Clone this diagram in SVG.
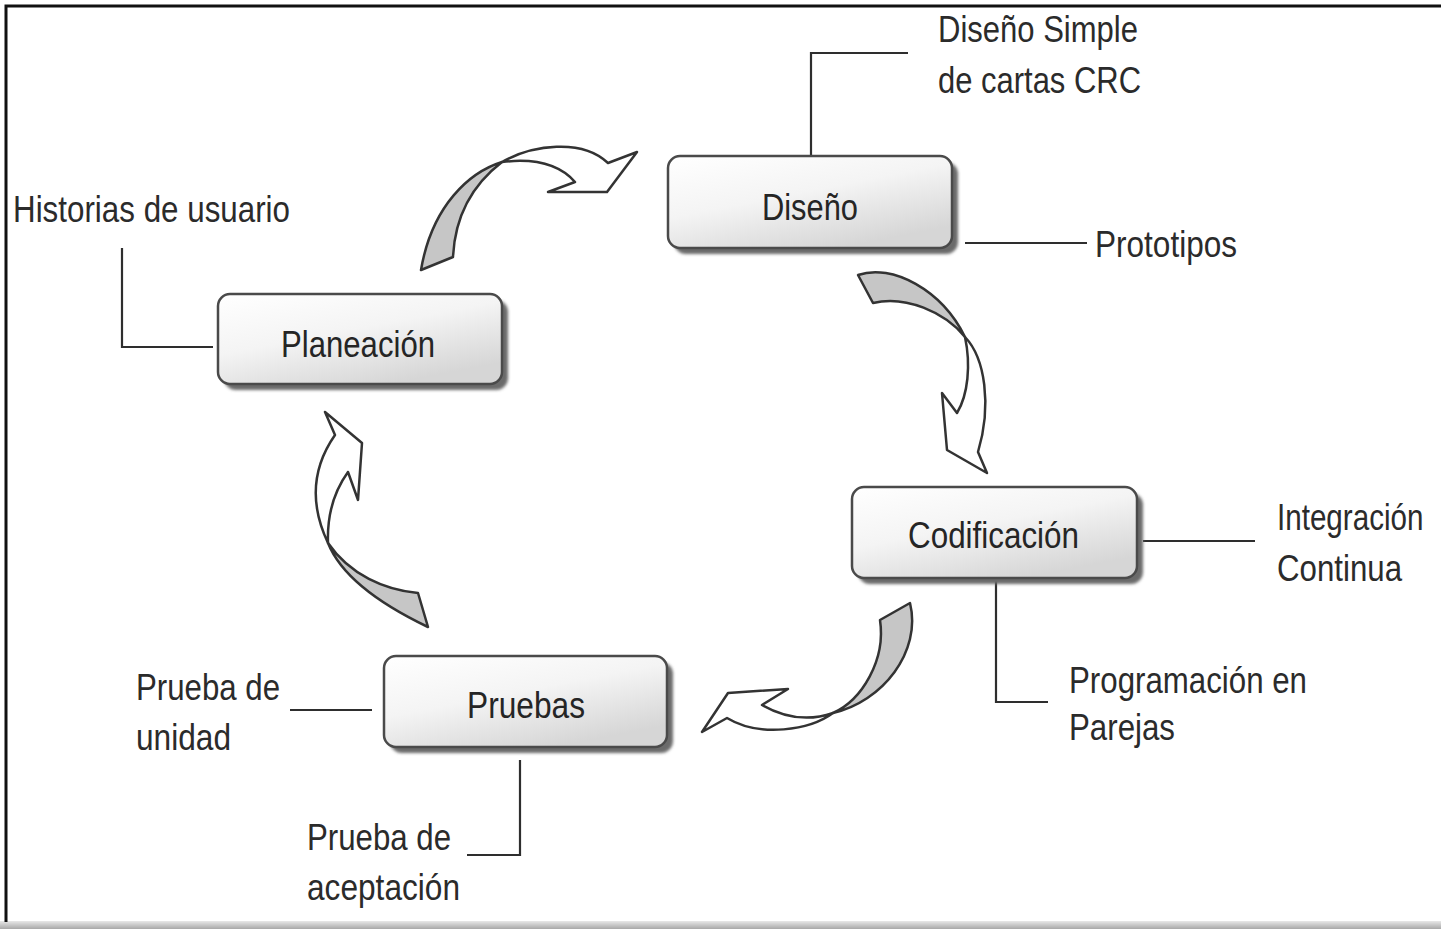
<svg xmlns="http://www.w3.org/2000/svg" width="1441" height="929" viewBox="0 0 1441 929">
<style>
text{font-family:"Liberation Sans",Arial,sans-serif;font-size:37px;fill:#2b2b2b;}
.lbl{font-size:36px;fill:#252525;}
.box{fill:url(#g);stroke:#4a4a4a;stroke-width:2.5;}
.sh{fill:#6a6a6a;filter:url(#b);}
.ln{fill:none;stroke:#2e2e2e;stroke-width:2.2;}
.ag{fill:#c6c6c6;stroke:#333;stroke-width:2.5;stroke-linejoin:round;}
.aw{fill:#fff;stroke:#333;stroke-width:2.5;stroke-linejoin:round;}
</style>
<defs>
<linearGradient id="g" x1="0" y1="0" x2="0.6" y2="1">
<stop offset="0" stop-color="#ffffff"/>
<stop offset="0.5" stop-color="#f4f4f4"/>
<stop offset="1" stop-color="#d6d6d6"/>
</linearGradient>
<linearGradient id="bot" x1="0" y1="0" x2="0" y2="1">
<stop offset="0" stop-color="#e8e8e8"/>
<stop offset="1" stop-color="#a8a8a8"/>
</linearGradient>
<filter id="b" x="-10%" y="-10%" width="120%" height="130%"><feGaussianBlur stdDeviation="1.5"/></filter>
</defs>
<rect width="1441" height="929" fill="#fff"/>
<rect x="0" y="921" width="1441" height="8" fill="url(#bot)"/>
<path d="M6,922 V6 H1441" fill="none" stroke="#111" stroke-width="3"/>

<g id="connectors">
<path class="ln" d="M811,156 V53 H908"/>
<path class="ln" d="M965,243 H1087"/>
<path class="ln" d="M122,248 V347 H213"/>
<path class="ln" d="M1143,541 H1255"/>
<path class="ln" d="M996,580 V702 H1048"/>
<path class="ln" d="M290,710 H372"/>
<path class="ln" d="M520,760 V855 H467"/>
<g id="arrow1">
<path class="ag" d="M502,162 C470,172 432,205 421,270 L453,257 C455,215 472,185 502,162 Z"/>
<path class="aw" d="M502,162 C532,145 582,138 608,163 L637,152 L607,192 L548,192 L575,182 C560,165 535,158 502,162 Z"/>
</g>
<g id="arrow2">
<path class="ag" d="M858,275 C892,263 942,290 965,337 C945,312 905,295 873,303 Z"/>
<path class="aw" d="M965,337 C985,358 992,405 978,452 L987,473 L947,450 L942,393 L957,413 C968,395 971,365 965,337 Z"/>
</g>
<g id="arrow3">
<path class="ag" d="M910,603 C922,652 882,702 833,713 C862,700 886,660 880,620 Z"/>
<path class="aw" d="M833,713 C810,730 760,738 727,718 L702,732 L728,693 L788,689 L762,705 C785,718 810,721 833,713 Z"/>
</g>
<g id="arrow4">
<path class="ag" d="M328,543 C342,578 382,605 428,627 L418,593 C385,590 350,575 328,543 Z"/>
<path class="aw" d="M328,543 C310,505 312,468 335,435 L325,412 L362,443 L358,500 L348,472 C335,490 327,515 328,543 Z"/>
</g>
</g>

<g id="node-diseno">
<rect class="sh" x="674" y="162" width="284" height="92" rx="12"/>
<rect class="box" x="668" y="156" width="284" height="92" rx="12"/>
<text class="lbl" x="762" y="220" textLength="96" lengthAdjust="spacingAndGlyphs">Diseño</text>
</g>
<g id="node-planeacion">
<rect class="sh" x="224" y="300" width="284" height="90" rx="12"/>
<rect class="box" x="218" y="294" width="284" height="90" rx="12"/>
<text class="lbl" x="281" y="357" textLength="154" lengthAdjust="spacingAndGlyphs">Planeación</text>
</g>
<g id="node-codificacion">
<rect class="sh" x="858" y="493" width="285" height="91" rx="12"/>
<rect class="box" x="852" y="487" width="285" height="91" rx="12"/>
<text class="lbl" x="908" y="548" textLength="171" lengthAdjust="spacingAndGlyphs">Codificación</text>
</g>
<g id="node-pruebas">
<rect class="sh" x="390" y="662" width="283" height="91" rx="12"/>
<rect class="box" x="384" y="656" width="283" height="91" rx="12"/>
<text class="lbl" x="467" y="718" textLength="118" lengthAdjust="spacingAndGlyphs">Pruebas</text>
</g>

<g id="labels">
<text x="938" y="42" textLength="200" lengthAdjust="spacingAndGlyphs">Diseño Simple</text>
<text x="938" y="93" textLength="203" lengthAdjust="spacingAndGlyphs">de cartas CRC</text>
<text x="13" y="222" textLength="277" lengthAdjust="spacingAndGlyphs">Historias de usuario</text>
<text x="1095" y="257" textLength="142" lengthAdjust="spacingAndGlyphs">Prototipos</text>
<text transform="translate(1277,530) scale(0.8,1)" x="0" y="0">Integración</text>
<text x="1277" y="581" textLength="125" lengthAdjust="spacingAndGlyphs">Continua</text>
<text x="1069" y="693" textLength="238" lengthAdjust="spacingAndGlyphs">Programación en</text>
<text x="1069" y="740" textLength="106" lengthAdjust="spacingAndGlyphs">Parejas</text>
<text x="136" y="700" textLength="144" lengthAdjust="spacingAndGlyphs">Prueba de</text>
<text x="136" y="750" textLength="95" lengthAdjust="spacingAndGlyphs">unidad</text>
<text x="307" y="850" textLength="144" lengthAdjust="spacingAndGlyphs">Prueba de</text>
<text x="307" y="900" textLength="153" lengthAdjust="spacingAndGlyphs">aceptación</text>
</g>
</svg>
